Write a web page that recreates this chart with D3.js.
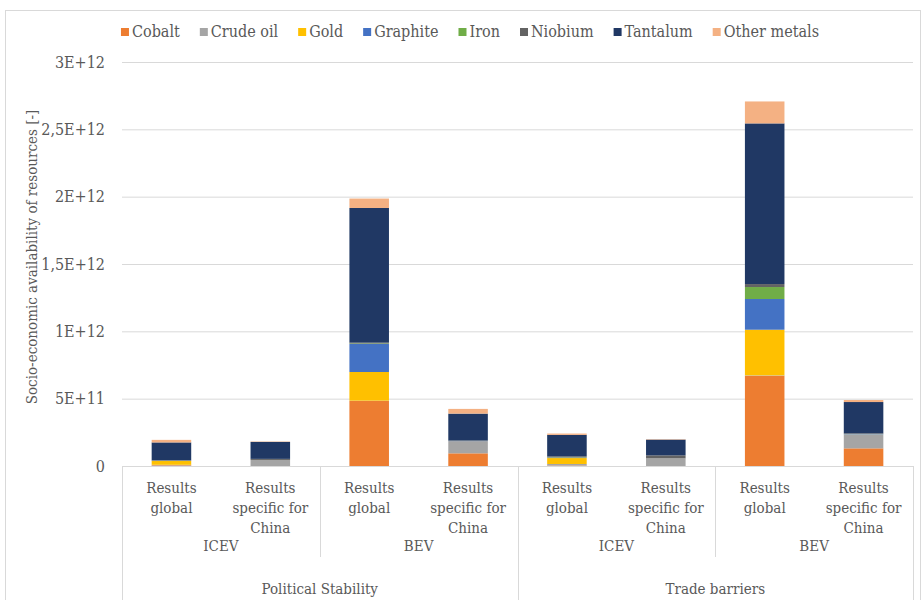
<!DOCTYPE html>
<html>
<head>
<meta charset="utf-8">
<script src="https://cdn.jsdelivr.net/npm/d3@7"></script>
<style>
  body { margin: 0; background: #fff; }
  text { font-family: "DejaVu Serif Condensed", "DejaVu Serif", serif; font-stretch: condensed; fill: #595959; }
</style>
</head>
<body>
<svg width="924" height="600"></svg>
<script>
// categories (three levels of the x axis)
var groups = ["Political Stability", "Trade barriers"];
var vehicles = ["ICEV", "BEV"];
var scopes = [["Results", "global"], ["Results", "specific for", "China"]];

// series values, in units of 1e9 (order: PS-ICEV-global, PS-ICEV-China, PS-BEV-global, PS-BEV-China, TB-...)
var cobalt   = [5, 0, 483, 94, 3, 0, 670, 131];
var crudeOil = [4, 45, 2, 91, 12, 57, 3, 104];
var gold     = [28, 0, 213, 0, 44, 0, 339, 0];
var graphite = [2, 0, 208, 1, 2, 0, 228, 2];
var iron     = [1, 0, 4, 1, 3, 0, 89, 1];
var niobium  = [4, 8, 6, 2, 8, 22, 22, 4];
var tantalum = [131, 126, 1000, 200, 159, 117, 1193, 233];
var other    = [19, 3, 70, 35, 10, 3, 163, 15];

var seriesNames = ["Cobalt", "Crude oil", "Gold", "Graphite", "Iron", "Niobium", "Tantalum", "Other metals"];
var seriesValues = [cobalt, crudeOil, gold, graphite, iron, niobium, tantalum, other];
var colors = ["#ED7D31", "#A5A5A5", "#FFC000", "#4472C4", "#70AD47", "#636363", "#203864", "#F4B183"];

var yTicks = [0, 5e11, 1e12, 1.5e12, 2e12, 2.5e12, 3e12];

var svg = d3.select("svg"),
    plotLeft = 122, plotRight = 913, plotTop = 62, plotBottom = 466;

// build rows for the stack
var bars = [];
groups.forEach(function(g, gi) {
  vehicles.forEach(function(v, vi) {
    scopes.forEach(function(s, si) {
      var idx = gi * 4 + vi * 2 + si;
      var row = { key: g + "|" + v + "|" + si, scope: s };
      seriesNames.forEach(function(n, k) { row[n] = seriesValues[k][idx] * 1e9; });
      bars.push(row);
    });
  });
});

var x = d3.scaleBand()
    .domain(bars.map(function(d) { return d.key; }))
    .range([plotLeft, plotRight])
    .paddingInner(0.6)
    .paddingOuter(0.3);

var y = d3.scaleLinear().domain([0, 3e12]).range([plotBottom, plotTop]);

var color = d3.scaleOrdinal().domain(seriesNames).range(colors);

// outer chart frame
svg.append("rect")
    .attr("x", 5.5).attr("y", 10.5)
    .attr("width", 915).attr("height", 620)
    .attr("fill", "none").attr("stroke", "#d9d9d9");

function fmt(v) {
  if (v === 0) return "0";
  var e = Math.floor(Math.log10(v));
  var m = +(v / Math.pow(10, e)).toFixed(1);
  return String(m).replace(".", ",") + "E+" + e;
}

// y axis with gridlines
var yAxis = svg.append("g")
    .attr("transform", "translate(" + plotLeft + ",0)")
    .call(d3.axisLeft(y).tickValues(yTicks).tickFormat(fmt)
      .tickSize(-(plotRight - plotLeft)).tickPadding(17));
yAxis.attr("font-family", null).attr("font-size", null);
yAxis.select(".domain").remove();
yAxis.selectAll(".tick line").attr("stroke", "#d9d9d9");
yAxis.selectAll(".tick text")
    .style("font-size", "16px")
    .attr("fill", "#595959");

svg.append("text")
    .attr("transform", "translate(33,257) rotate(-90)")
    .attr("text-anchor", "middle")
    .attr("dominant-baseline", "middle")
    .style("font-size", "15px")
    .text("Socio-economic availability of resources [-]");

// stacked bars
var stack = d3.stack().keys(seriesNames)(bars);

svg.append("g")
  .selectAll("g")
  .data(stack)
  .enter().append("g")
    .attr("fill", function(d) { return color(d.key); })
  .selectAll("rect")
  .data(function(d) { return d; })
  .enter().append("rect")
    .attr("x", function(d) { return x(d.data.key); })
    .attr("y", function(d) { return y(d[1]); })
    .attr("width", x.bandwidth())
    .attr("height", function(d) { return y(d[0]) - y(d[1]); });

// multi-level category axis
var step = x.step();
var axisG = svg.append("g");
axisG.append("line")
    .attr("x1", plotLeft).attr("x2", plotRight)
    .attr("y1", plotBottom + 0.5).attr("y2", plotBottom + 0.5)
    .attr("stroke", "#d9d9d9");

d3.range(0, bars.length + 1, 2).forEach(function(i) {
  var bx = Math.round(plotLeft + i * step) + 0.5;
  axisG.append("line")
      .attr("x1", bx).attr("x2", bx)
      .attr("y1", plotBottom).attr("y2", i % 4 === 0 ? 600 : 557)
      .attr("stroke", "#d9d9d9");
});

bars.forEach(function(d) {
  var cx = x(d.key) + x.bandwidth() / 2;
  d.scope.forEach(function(line, li) {
    axisG.append("text")
        .attr("x", cx).attr("y", 489 + li * 20)
        .attr("text-anchor", "middle")
        .attr("dominant-baseline", "middle")
        .style("font-size", "15px")
        .text(line);
  });
});

groups.forEach(function(g, gi) {
  vehicles.forEach(function(v, vi) {
    var cx = plotLeft + (gi * 4 + vi * 2 + 1) * step;
    axisG.append("text")
        .attr("x", cx).attr("y", 547)
        .attr("text-anchor", "middle")
        .attr("dominant-baseline", "middle")
        .style("font-size", "15px")
        .text(v);
  });
  axisG.append("text")
      .attr("x", plotLeft + (gi * 4 + 2) * step).attr("y", 590)
      .attr("text-anchor", "middle")
      .attr("dominant-baseline", "middle")
      .style("font-size", "15px")
      .text(g);
});

// legend, laid out from measured text widths and centred
var legend = svg.append("g");
var lx = 0;
seriesNames.forEach(function(n) {
  var item = legend.append("g").attr("transform", "translate(" + lx + ",0)");
  item.append("rect")
      .attr("x", 0).attr("y", -4).attr("width", 8).attr("height", 8)
      .attr("fill", color(n));
  var t = item.append("text")
      .attr("x", 11).attr("y", 0)
      .attr("dominant-baseline", "middle")
      .style("font-size", "16px")
      .text(n);
  lx += 11 + t.node().getComputedTextLength() + 20;
});
var legendWidth = lx - 20;
legend.attr("transform", "translate(" + (470 - legendWidth / 2) + ",32)");
</script>
</body>
</html>
